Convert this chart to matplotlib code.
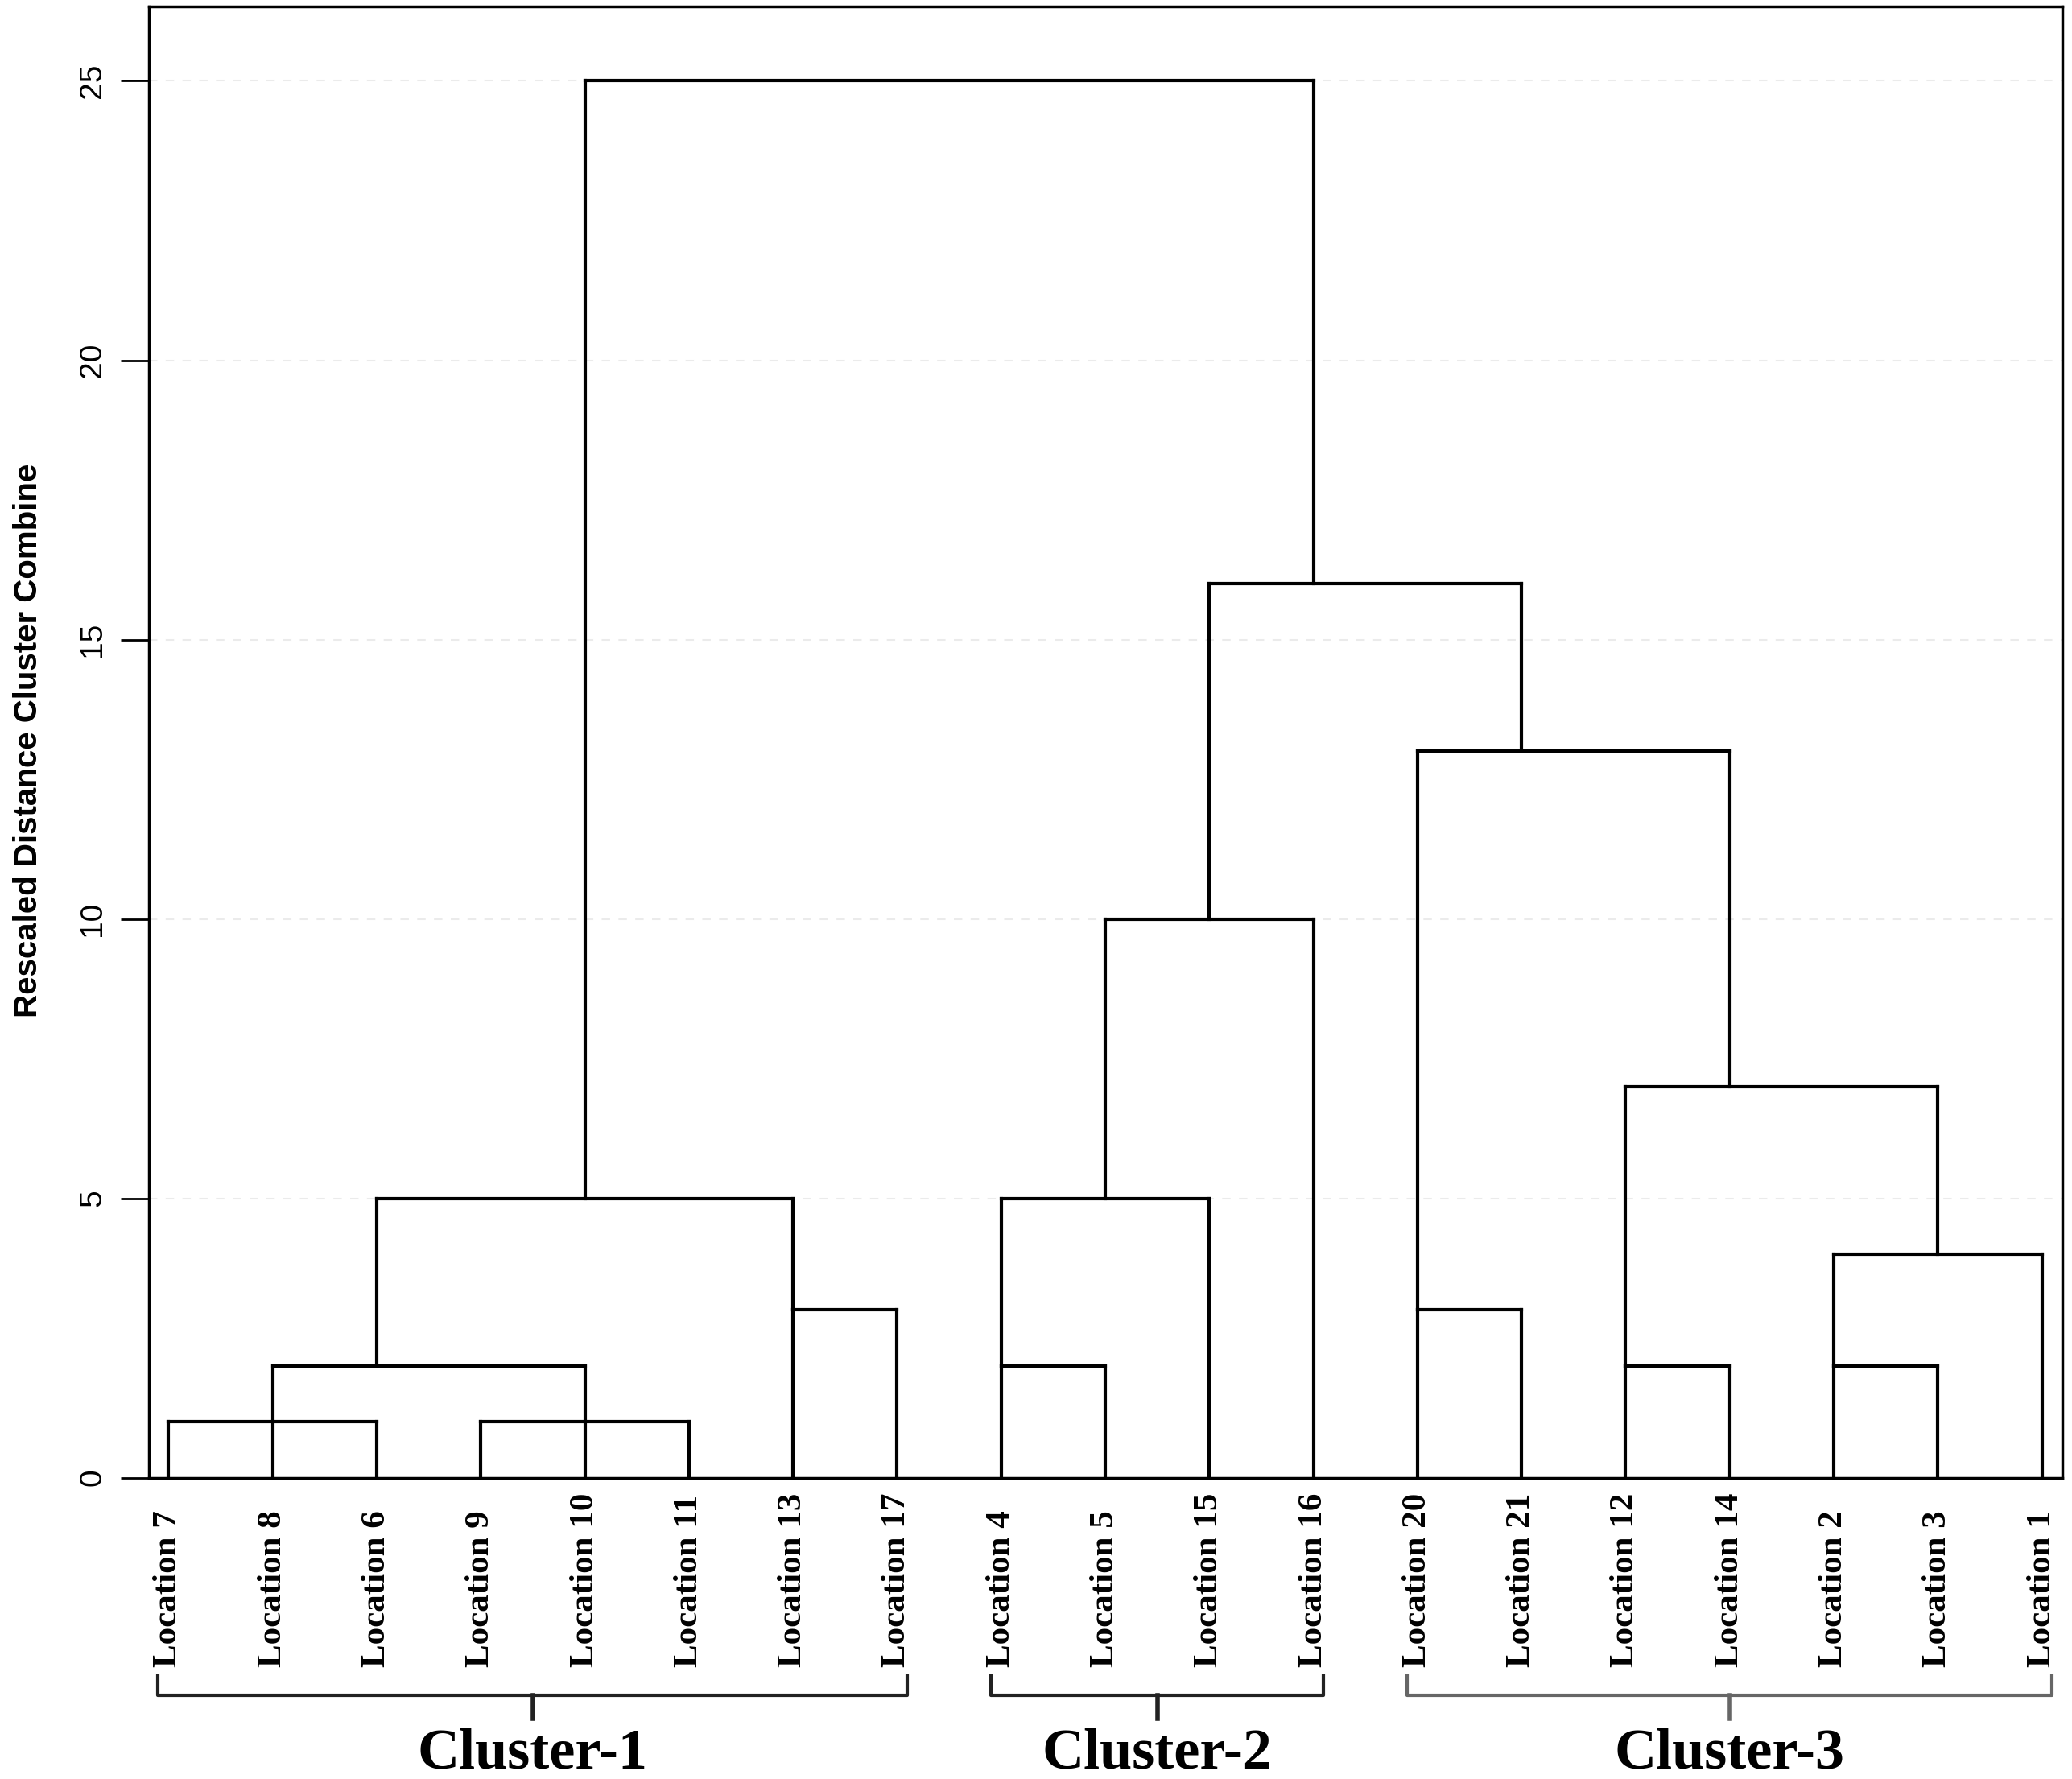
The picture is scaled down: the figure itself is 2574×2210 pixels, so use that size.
import numpy as np
import matplotlib
matplotlib.use("Agg")
import matplotlib.pyplot as plt

# leaf order as shown left to right
leaves = ['Location 7', 'Location 8', 'Location 6', 'Location 9', 'Location 10',
          'Location 11', 'Location 13', 'Location 17', 'Location 4', 'Location 5',
          'Location 15', 'Location 16', 'Location 20', 'Location 21', 'Location 12',
          'Location 14', 'Location 2', 'Location 3', 'Location 1']

# merges: children (leaf index 0..18, merged nodes 19..) and rescaled distance
merge_children = [[0, 1, 2], [3, 4, 5], [19, 20], [6, 7], [21, 22],
                  [8, 9], [24, 10], [25, 11],
                  [12, 13], [14, 15], [16, 17], [29, 18], [28, 30], [27, 31],
                  [26, 32], [23, 33]]
merge_heights = [1, 1, 2, 3, 5,
                 2, 5, 10,
                 3, 2, 2, 4, 7, 13,
                 16, 25]

cluster_names = ['Cluster-1', 'Cluster-2', 'Cluster-3']
cluster_first = [0, 8, 12]
cluster_last = [7, 11, 18]
y_ticks = [0, 5, 10, 15, 20, 25]

SANS = ['Liberation Sans Narrow', 'Liberation Sans', 'DejaVu Sans']
SERIF = ['Liberation Serif', 'DejaVu Serif']

fig = plt.figure(figsize=(25.74, 22.10), dpi=100)
ax = fig.add_axes([0.0718, 0.1694, 0.9955 - 0.0718, 0.9963 - 0.1694])

# node positions and heights
node_x = list(range(len(leaves)))
node_h = [0] * len(leaves)
for kids, h in zip(merge_children, merge_heights):
    xs = [node_x[k] for k in kids]
    for k in kids:
        ax.plot([node_x[k], node_x[k]], [node_h[k], h], color='black', lw=3,
                solid_capstyle='projecting', zorder=3)
    ax.plot([min(xs), max(xs)], [h, h], color='black', lw=3,
            solid_capstyle='projecting', zorder=3)
    node_x.append((min(xs) + max(xs)) // 2)
    node_h.append(h)

ax.set_xlim(-0.19, 18.2)
ax.set_ylim(0, 26.33)
ax.set_xticks([])
ax.set_yticks(y_ticks)
ax.set_yticklabels([str(t) for t in y_ticks], rotation=90, va='center',
                   family=SANS, fontsize=28)
ax.tick_params(axis='y', length=25, width=2, pad=12, color='black')
ax.yaxis.grid(True, ls=(0, (5, 5)), color='#ebebeb', lw=1.5, zorder=0)
for s in ax.spines.values():
    s.set_linewidth(2.5)

fig.text(0.0136, 0.584, 'Rescaled Distance Cluster Combine', rotation=90,
         ha='center', va='center', fontsize=29, fontweight='bold', family=SANS)

trans = ax.get_xaxis_transform()
for i, name in enumerate(leaves):
    ax.text(i, -0.129, name, rotation=90, ha='center', va='bottom',
            transform=trans, fontsize=31, fontweight='bold', family=SERIF)

bracket_colors = ['#222222', '#222222', '#666666']
for name, a, b, c in zip(cluster_names, cluster_first, cluster_last, bracket_colors):
    x0, x1 = a - 0.1, b + 0.1
    xm = (x0 + x1) / 2
    ax.plot([x0, x0, x1, x1], [-0.135, -0.148, -0.148, -0.135], color=c, lw=3,
            transform=trans, clip_on=False)
    ax.plot([xm, xm], [-0.148, -0.164], color=c, lw=4, transform=trans, clip_on=False)
    ax.text(xm, -0.188, name, ha='center', va='center', transform=trans,
            fontsize=52, fontweight='bold', family=SERIF)

fig.savefig('out.png', dpi=100, facecolor='white')
